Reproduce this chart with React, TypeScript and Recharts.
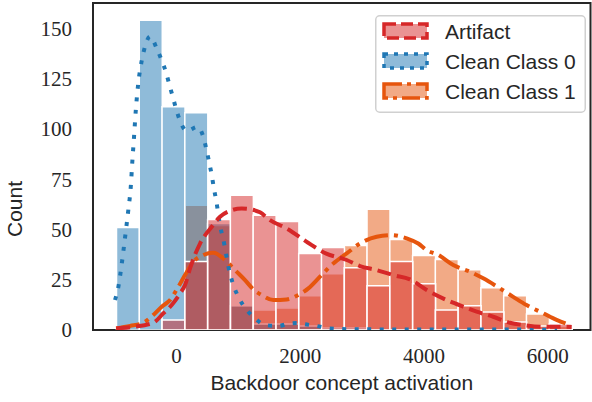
import React from "react";
import {
	Bar,
	ComposedChart,
	Legend,
	Line,
	ReferenceArea,
	XAxis,
	YAxis,
} from "recharts";

// histogram bins (bin centres on the activation axis)
const binCenters = [
	-785, -417, -49, 319, 687, 1055, 1423, 1791, 2159, 2527, 2895, 3263, 3631,
	3999, 4367, 4735, 5103, 5471, 5839, 6207,
];
const artifactCounts = [
	0, 0, 5, 34, 55, 67, 57, 54, 38, 41, 31, 22, 34, 23, 10, 12, 9, 4, 2, 3,
];
const clean0Counts = [
	51, 154, 111, 108, 53, 12, 3, 3, 2, 1, 1, 0, 0, 0, 0, 0, 0, 0, 0, 0,
];
const clean1Counts = [
	0, 0, 0, 62, 52, 12, 10, 11, 17, 28, 42, 60, 45, 37, 35, 30, 21, 17, 8, 2,
];

// kde curves: [activation, count]
const artifactKde = [
	[-977, 0.8], [-698, 1.6], [-375, 3.6], [-213, 8.3], [-78, 12.4], [57, 18.2],
	[137, 22.4], [218, 30.6], [380, 43], [569, 51.3], [703, 56.3], [864, 59.3],
	[1053, 60.4], [1215, 59.9], [1349, 58.5], [1511, 54.6], [1780, 50.5],
	[2120, 43.5], [2420, 38], [2750, 34.8], [2964, 31.8], [3234, 29.8],
	[3502, 27.3], [3772, 25.2], [4042, 19.9], [4365, 14.9], [4633, 11.6],
	[4850, 9.1], [5118, 6.6], [5388, 3.6], [5603, 2.5], [5926, 1.6],
	[6304, 1.6], [6385, 1.5],
];
const clean0Kde = [
	[-994, 14.9], [-940, 21.5], [-885, 33], [-832, 46], [-778, 60], [-740, 71],
	[-714, 84], [-687, 96], [-659, 109], [-617, 123], [-562, 134], [-509, 141],
	[-428, 146], [-320, 140], [-239, 134], [-169, 128], [-116, 122], [-61, 116],
	[-8, 110], [57, 104], [165, 99], [336, 101], [433, 96], [488, 89], [530, 83],
	[569, 77], [606, 70], [638, 65], [703, 52], [756, 45], [864, 28],
	[929, 21.5], [998, 16.5], [1134, 10], [1268, 5.8], [1430, 2.5], [1645, 2],
	[1834, 3.3], [1968, 3.5], [2049, 3], [2265, 2], [2480, 0.8], [2800, 0.4],
	[3500, 0.3], [4500, 0.3], [5500, 0.2], [6150, 0.1],
];
const clean1Kde = [
	[-977, 0.8], [-751, 2], [-536, 3.6], [-375, 7.5], [-239, 11.6],
	[-105, 14.9], [29, 21.5], [137, 27.3], [271, 33.9], [433, 37.3],
	[595, 38.4], [784, 34.8], [945, 29.8], [1107, 24.8], [1241, 20.2],
	[1376, 17.4], [1564, 14.9], [1780, 15.2], [1968, 17.4], [2130, 20.7],
	[2318, 26.5], [2533, 33.1], [2750, 38.1], [2964, 43], [3234, 46.4],
	[3477, 47.2], [3719, 45.6], [3906, 43], [4042, 39.7], [4230, 37.3],
	[4472, 32.3], [4741, 29], [4956, 25.7], [5226, 20.7], [5441, 16.5],
	[5657, 12.4], [5926, 8.3], [6142, 5], [6357, 2.5],
];

const xTicks = [0, 2000, 4000, 6000];
const yTicks = [0, 25, 50, 75, 100, 125, 150];

const RED = "#d62728";
const BLUE = "#1f77b4";
const ORANGE = "#e6550d";
const INK = "#262626";
const SANS = "'Liberation Sans', Arial, sans-serif";
const SERIF = "'Liberation Serif', 'Times New Roman', serif";

const xDomain = [-1350, 6690];
const yDomain = [0, 162.6];
const tickStyle = { fill: INK, fontSize: 21, fontFamily: SERIF };

const binData = binCenters.map((bin, i) => ({
	bin,
	artifact: artifactCounts[i],
	clean0: clean0Counts[i],
	clean1: clean1Counts[i],
}));
const toPoints = (pts: number[][]) => pts.map(([x, y]) => ({ x, y }));

const legendItems = [
	{ label: "Artifact", color: RED, dash: "12 5" },
	{ label: "Clean Class 0", color: BLUE, dash: "4 6" },
	{ label: "Clean Class 1", color: ORANGE, dash: "18 5 4 5" },
];

function LegendBox() {
	return (
		<svg width={211} height={98}>
			<rect
				x={0.75}
				y={0.75}
				width={209.5}
				height={96.5}
				rx={4}
				fill="#fff"
				fillOpacity={0.8}
				stroke="#d0d0d0"
				strokeWidth={1.5}
			/>
			{legendItems.map((it, i) => (
				<g key={it.label} transform={`translate(0, ${16 + i * 30})`}>
					<rect
						x={9}
						y={-7}
						width={43}
						height={14}
						fill={it.color}
						fillOpacity={0.5}
						stroke={it.color}
						strokeWidth={3.5}
						strokeDasharray={it.dash}
					/>
					<text
						x={70}
						y={0}
						dy="0.37em"
						fontSize={21}
						fontFamily={SANS}
						fill={INK}
					>
						{it.label}
					</text>
				</g>
			))}
		</svg>
	);
}

function XTitle({ viewBox }: any) {
	return (
		<text
			x={viewBox.x + viewBox.width / 2}
			y={viewBox.y + 60}
			textAnchor="middle"
			fontSize={21}
			fontFamily={SANS}
			fill={INK}
		>
			Backdoor concept activation
		</text>
	);
}

function YTitle({ viewBox }: any) {
	const cx = viewBox.x + 15;
	const cy = viewBox.y + viewBox.height * 0.63;
	return (
		<text
			x={cx}
			y={cy}
			dy="0.35em"
			transform={`rotate(-90, ${cx}, ${cy})`}
			textAnchor="middle"
			fontSize={21}
			fontFamily={SANS}
			fill={INK}
		>
			Count
		</text>
	);
}

export default function App() {
	return (
		<div style={{ position: "absolute", left: 0, top: 0, background: "#fff" }}>
			<ComposedChart
				width={592}
				height={402}
				data={binData}
				margin={{ top: 3, right: 1.5, bottom: 0, left: 0 }}
				barCategoryGap={0}
				barGap={0}
			>
				<XAxis
					xAxisId="num"
					type="number"
					dataKey="x"
					domain={xDomain}
					allowDataOverflow
					ticks={xTicks}
					tickLine={false}
					tickSize={0}
					tickMargin={18}
					height={72}
					axisLine={false}
					tick={tickStyle}
					label={(p: any) => <XTitle {...p} />}
				/>
				{["c1", "c0", "art"].map((id) => (
					<XAxis
						key={id}
						xAxisId={id}
						dataKey="bin"
						type="category"
						hide
						height={0}
						padding={{ left: 23.5, right: 18.5 }}
					/>
				))}
				<YAxis
					yAxisId="y"
					domain={yDomain}
					allowDataOverflow
					ticks={yTicks}
					tickLine={false}
					tickSize={0}
					tickMargin={21}
					width={93}
					axisLine={false}
					tick={tickStyle}
					label={(p: any) => <YTitle {...p} />}
				/>
				<Bar
					xAxisId="c1"
					yAxisId="y"
					dataKey="clean1"
					fill={ORANGE}
					fillOpacity={0.5}
					stroke="#fff"
					strokeWidth={1.5}
					isAnimationActive={false}
				/>
				<Bar
					xAxisId="c0"
					yAxisId="y"
					dataKey="clean0"
					fill={BLUE}
					fillOpacity={0.5}
					stroke="#fff"
					strokeWidth={1.5}
					isAnimationActive={false}
				/>
				<Bar
					xAxisId="art"
					yAxisId="y"
					dataKey="artifact"
					fill={RED}
					fillOpacity={0.5}
					stroke="#fff"
					strokeWidth={1.5}
					isAnimationActive={false}
				/>
				<Line
					xAxisId="num"
					yAxisId="y"
					data={toPoints(clean1Kde)}
					dataKey="y"
					type="monotone"
					stroke={ORANGE}
					strokeWidth={4}
					strokeDasharray="24 6 4 6"
					dot={false}
					activeDot={false}
					isAnimationActive={false}
				/>
				<Line
					xAxisId="num"
					yAxisId="y"
					data={toPoints(clean0Kde)}
					dataKey="y"
					type="monotone"
					stroke={BLUE}
					strokeWidth={4}
					strokeDasharray="4 8.5"
					dot={false}
					activeDot={false}
					isAnimationActive={false}
				/>
				<Line
					xAxisId="num"
					yAxisId="y"
					data={toPoints(artifactKde)}
					dataKey="y"
					type="monotone"
					stroke={RED}
					strokeWidth={4}
					strokeDasharray="14 6"
					dot={false}
					activeDot={false}
					isAnimationActive={false}
				/>
				<ReferenceArea
					xAxisId="num"
					yAxisId="y"
					x1={xDomain[0]}
					x2={xDomain[1]}
					y1={yDomain[0]}
					y2={yDomain[1]}
					fill="none"
					stroke={INK}
					strokeWidth={2}
					ifOverflow="visible"
				/>
				<Legend
					layout="vertical"
					align="center"
					verticalAlign="middle"
					content={() => <LegendBox />}
					wrapperStyle={{ left: 375, top: 15, width: 211, height: 98 }}
				/>
			</ComposedChart>
		</div>
	);
}
